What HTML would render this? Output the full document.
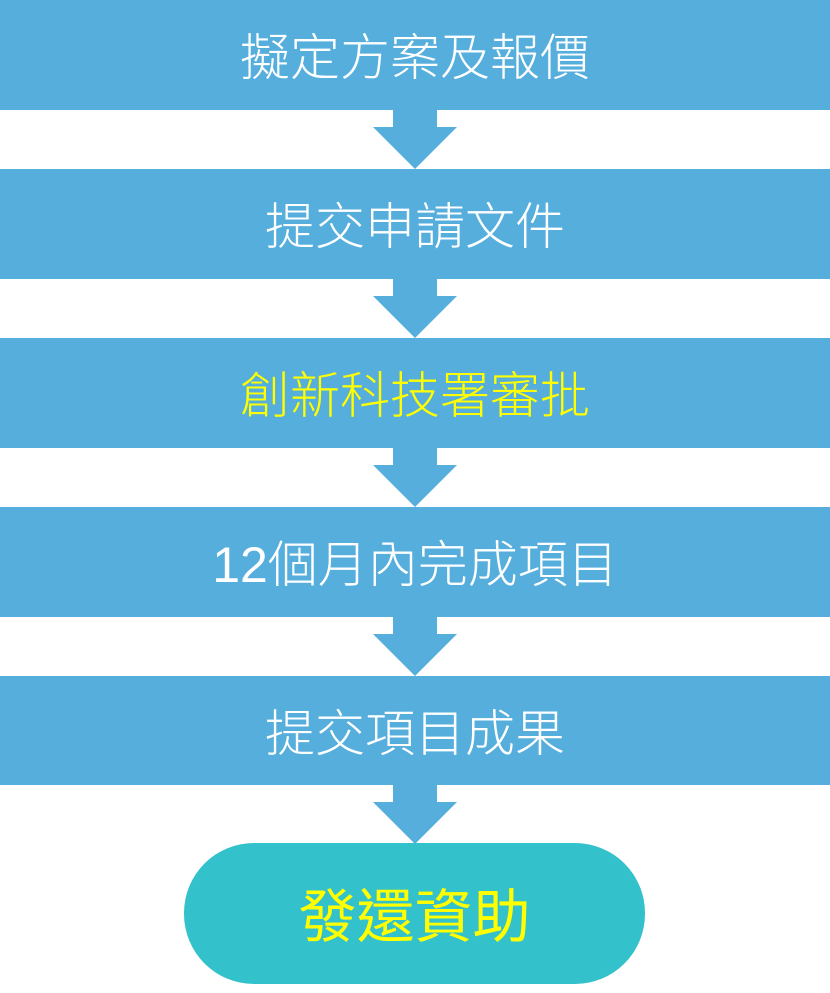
<!DOCTYPE html>
<html><head><meta charset="utf-8"><style>
body{margin:0;width:830px;height:984px;background:#fff;position:relative;overflow:hidden;font-family:"Liberation Sans","Noto Sans CJK TC",sans-serif;}
.bar{position:absolute;left:0;width:830px;height:110px;background:#55AEDC;color:#fff;font-size:50px;line-height:116px;text-align:center;font-weight:300;}
.y{color:#FFFF00}
svg{position:absolute;left:0;top:0}
.pill{position:absolute;left:184px;top:843px;width:461px;height:141px;border-radius:70px;background:#33C1CC;color:#FFFF00;font-size:58px;line-height:150px;text-align:center;}
</style></head><body>
<svg width="830" height="984">
<g fill="#55AEDC">
<polygon points="393,108 437,108 437,127 457,127 415,169 373,127 393,127"/>
<polygon points="393,277 437,277 437,296 457,296 415,338 373,296 393,296"/>
<polygon points="393,446 437,446 437,465 457,465 415,507 373,465 393,465"/>
<polygon points="393,615 437,615 437,634 457,634 415,676 373,634 393,634"/>
<polygon points="393,783 437,783 437,802 457,802 415,844 373,802 393,802"/>
</g></svg>
<div class="bar" style="top:0">擬定方案及報價</div>
<div class="bar" style="top:169px">提交申請文件</div>
<div class="bar y" style="top:338px">創新科技署審批</div>
<div class="bar" style="top:507px">12個月內完成項目</div>
<div class="bar" style="top:676px;height:109px">提交項目成果</div>
<div class="pill">發還資助</div>
</body></html>
